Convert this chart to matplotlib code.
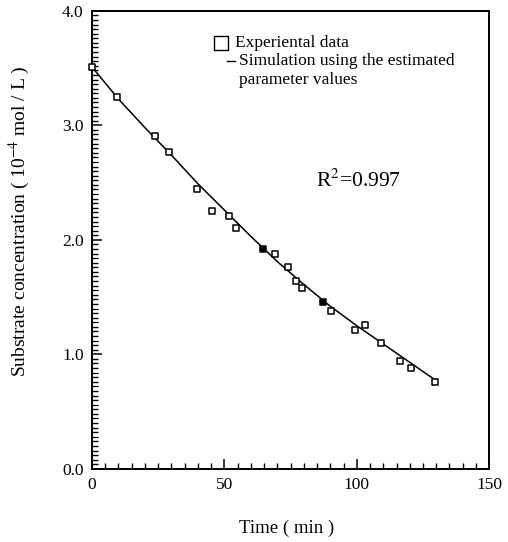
import numpy as np
import matplotlib.pyplot as plt
from matplotlib.ticker import MultipleLocator, FormatStrFormatter

plt.rcParams['font.family'] = ['Liberation Serif', 'DejaVu Serif']
plt.rcParams['mathtext.fontset'] = 'stix'

# experimental data (open squares)
t_exp = [0, 9.4, 23.8, 29.1, 39.7, 45.3, 51.8, 54.4, 69.1, 74.0, 77.1, 79.3,
         90.3, 99.4, 103.1, 109.2, 116.4, 120.5, 129.6]
c_exp = [3.51, 3.25, 2.91, 2.77, 2.44, 2.25, 2.21, 2.10, 1.88, 1.76, 1.64, 1.58,
         1.38, 1.21, 1.26, 1.10, 0.94, 0.88, 0.76]
# the filled / half-filled points
t_fill = [64.6, 87.3]
c_fill = [1.92, 1.46]

# simulated curve
t_sim = [0, 10, 20, 30, 40, 50, 60, 70, 80, 90, 100, 110, 120, 130]
c_sim = [3.51, 3.23, 2.98, 2.74, 2.49, 2.26, 2.03, 1.81, 1.61, 1.42, 1.25, 1.09, 0.93, 0.77]

fig = plt.figure(figsize=(5.08, 5.42), dpi=100)
ax = fig.add_axes([0.181, 0.135, 0.782, 0.845])

ax.plot(t_sim, c_sim, color='black', linewidth=1.1, zorder=2)
ax.scatter(t_exp, c_exp, marker='s', s=22, facecolors='white', edgecolors='black',
           linewidths=1.1, zorder=3, clip_on=False)
ax.scatter(t_fill, c_fill, marker='s', s=22, facecolors='black', edgecolors='black',
           linewidths=1.1, zorder=3)

ax.set_xlim(0, 150)
ax.set_ylim(0, 4.0)
ax.xaxis.set_major_locator(MultipleLocator(50))
ax.xaxis.set_minor_locator(MultipleLocator(5))
ax.yaxis.set_major_locator(MultipleLocator(1.0))
ax.yaxis.set_minor_locator(MultipleLocator(0.04))
ax.yaxis.set_major_formatter(FormatStrFormatter('%.1f'))
ax.tick_params(which='both', direction='in', top=False, right=False, labelsize=12.5)
ax.tick_params(which='major', length=7, width=1.1, pad=6)
ax.tick_params(which='minor', length=4.5, width=1.0)
for sp in ax.spines.values():
    sp.set_linewidth(1.4)

fig.text(0.565, 0.026, 'Time ( min )', fontsize=13.5, ha='center', va='center')
fig.text(0.039, 0.592, r'Substrate concentration ( 10$^{-4}$ mol / L )', fontsize=14,
         rotation=90, ha='center', va='center')

# legend drawn as text
ax.scatter([48.9], [3.716], marker='s', s=95, facecolors='white', edgecolors='black',
           linewidths=1.0)
ax.text(54.0, 3.716, 'Experiental data', fontsize=12.5, va='center', ha='left')
ax.plot([51.0, 54.0], [3.558, 3.558], color='black', linewidth=1.0)
ax.text(55.5, 3.558, 'Simulation using the estimated', fontsize=12.5, va='center', ha='left')
ax.text(55.5, 3.40, 'parameter values', fontsize=12.5, va='center', ha='left')

ax.text(84.5, 2.52, r'R$^2$=0.997', fontsize=15.5, va='center', ha='left')

fig.savefig('out.png', dpi=100)
